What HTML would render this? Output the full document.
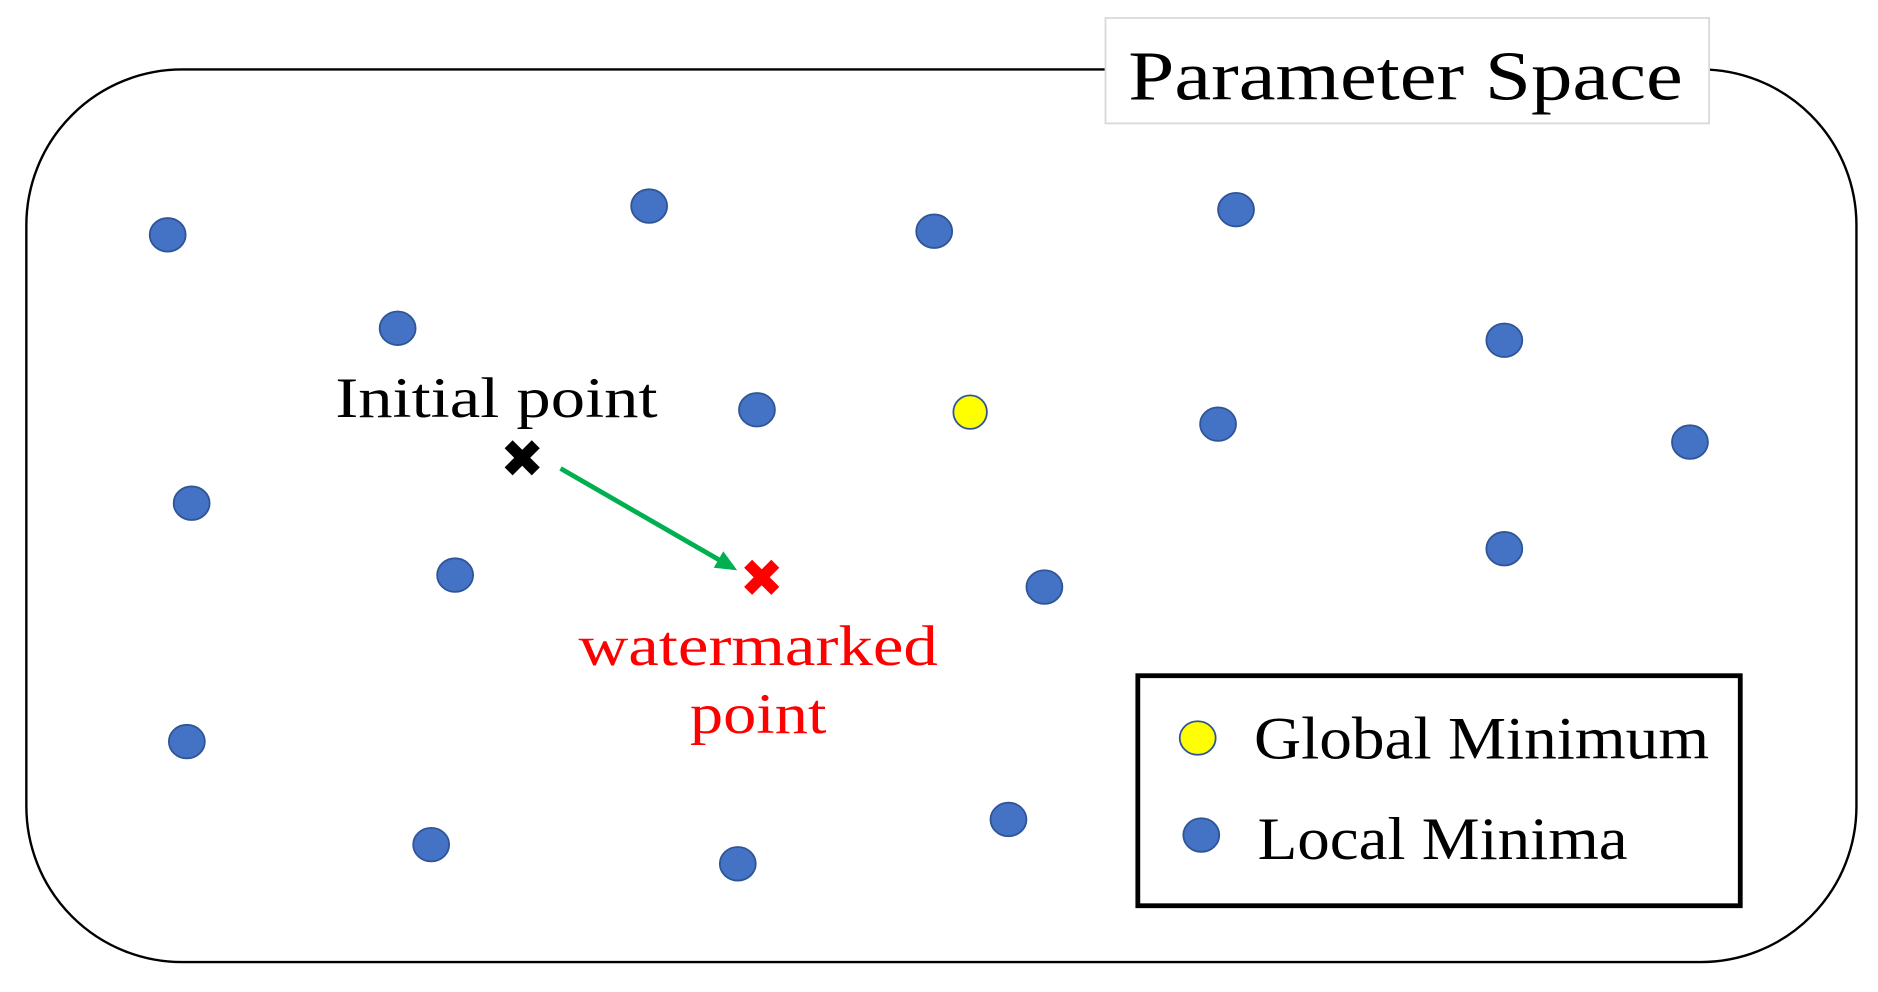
<!DOCTYPE html>
<html><head><style>html,body{margin:0;padding:0;background:#fff}svg{display:block}</style></head>
<body>
<svg width="1878" height="992" viewBox="0 0 1568 828" preserveAspectRatio="none" xmlns="http://www.w3.org/2000/svg">
<defs><marker id="ah" markerWidth="18" markerHeight="16" refX="14" refY="8" orient="auto" markerUnits="userSpaceOnUse"><path d="M0,0 L18,8 L0,16 z" fill="#00b050"/></marker></defs>
<rect x="22" y="58" width="1528" height="745" rx="130" ry="130" fill="#fff" stroke="#000" stroke-width="2"/>
<rect x="923" y="15" width="504" height="88" fill="#fff" stroke="#d9d9d9" stroke-width="1.5"/>
<text x="942" y="83" textLength="463" lengthAdjust="spacingAndGlyphs" font-family="Liberation Serif, serif" font-size="58">Parameter Space</text>
<g fill="#4472c4" stroke="#2f5597" stroke-width="1.5">
<ellipse cx="140" cy="196" rx="15" ry="14"/><ellipse cx="542" cy="172" rx="15" ry="14"/><ellipse cx="780" cy="193" rx="15" ry="14"/><ellipse cx="1032" cy="175" rx="15" ry="14"/><ellipse cx="332" cy="274" rx="15" ry="14"/><ellipse cx="1256" cy="284" rx="15" ry="14"/><ellipse cx="632" cy="342" rx="15" ry="14"/><ellipse cx="1017" cy="354" rx="15" ry="14"/><ellipse cx="1411" cy="369" rx="15" ry="14"/><ellipse cx="160" cy="420" rx="15" ry="14"/><ellipse cx="380" cy="480" rx="15" ry="14"/><ellipse cx="872" cy="490" rx="15" ry="14"/><ellipse cx="1256" cy="458" rx="15" ry="14"/><ellipse cx="156" cy="619" rx="15" ry="14"/><ellipse cx="360" cy="705" rx="15" ry="14"/><ellipse cx="616" cy="721" rx="15" ry="14"/><ellipse cx="842" cy="684" rx="15" ry="14"/>
<ellipse cx="1003" cy="697" rx="15" ry="14"/>
</g>
<ellipse cx="810" cy="344" rx="14" ry="14" fill="#ffff00" stroke="#2f5597" stroke-width="1.5"/>
<ellipse cx="1000" cy="616" rx="15" ry="14" fill="#ffff00" stroke="#2f5597" stroke-width="1.5"/>
<text x="280" y="348" textLength="269" lengthAdjust="spacingAndGlyphs" font-family="Liberation Serif, serif" font-size="48">Initial point</text>
<text x="436" y="398" text-anchor="middle" font-family="DejaVu Sans, sans-serif" font-size="44" font-weight="bold" fill="#000">✖</text>
<line x1="468" y1="391" x2="612" y2="474" stroke="#00b050" stroke-width="4" marker-end="url(#ah)"/>
<text x="636" y="498" text-anchor="middle" font-family="DejaVu Sans, sans-serif" font-size="44" font-weight="bold" fill="#ff0000">✖</text>
<text x="483" y="555" textLength="300" lengthAdjust="spacingAndGlyphs" font-family="Liberation Serif, serif" font-size="48" fill="#ff0000">watermarked</text>
<text x="576" y="612" textLength="114" lengthAdjust="spacingAndGlyphs" font-family="Liberation Serif, serif" font-size="48" fill="#ff0000">point</text>
<rect x="950" y="564" width="503" height="192" fill="none" stroke="#000" stroke-width="4"/>
<text x="1047" y="633" textLength="380" lengthAdjust="spacingAndGlyphs" font-family="Liberation Serif, serif" font-size="50">Global Minimum</text>
<text x="1050" y="717" textLength="309" lengthAdjust="spacingAndGlyphs" font-family="Liberation Serif, serif" font-size="50">Local Minima</text>
</svg>
</body></html>
